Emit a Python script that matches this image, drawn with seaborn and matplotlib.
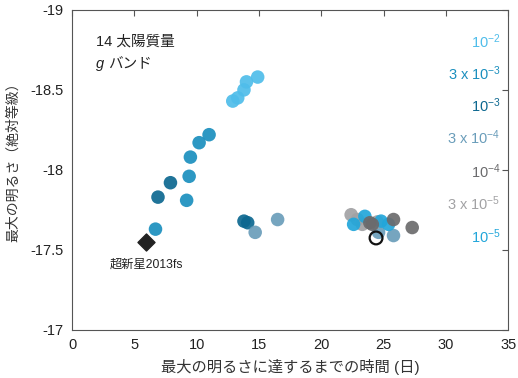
import matplotlib
matplotlib.use("Agg")
import matplotlib.pyplot as plt
import seaborn as sns
import pandas as pd

sns.set_style("white")
plt.rcParams["font.family"] = ["Liberation Sans", "Noto Sans CJK JP", "DejaVu Sans"]
plt.rcParams["mathtext.fontset"] = "custom"
plt.rcParams["mathtext.rm"] = "Liberation Sans"
plt.rcParams["mathtext.it"] = "Liberation Sans:italic"

# Mass-loss rates (solar masses per year) and their colours
rate_labels = [r"$10^{-2}$", r"3 x $10^{-3}$", r"$10^{-3}$", r"3 x $10^{-4}$",
               r"$10^{-4}$", r"3 x $10^{-5}$", r"$10^{-5}$"]
rate_keys = ["1e-2", "3e-3", "1e-3", "3e-4", "1e-4", "3e-5", "1e-5"]
rate_colors = ["#4fbdea", "#1b8fbe", "#0d6890", "#6a9dba", "#6b6b6d", "#a2a2a4", "#22a6da"]

# Rise time (days) and peak g-band absolute magnitude per model
rise_1e2 = [12.9, 13.3, 13.8, 14.0, 14.9]
mag_1e2 = [-18.43, -18.45, -18.50, -18.55, -18.58]
rise_3e3 = [11.0, 10.2, 9.5, 9.4, 9.2, 6.7]
mag_3e3 = [-18.22, -18.17, -18.08, -17.96, -17.81, -17.63]
rise_1e3 = [7.9, 6.9, 13.8, 14.1]
mag_1e3 = [-17.92, -17.83, -17.68, -17.67]
rise_3e4 = [14.7, 16.5, 24.6, 25.8]
mag_3e4 = [-17.61, -17.69, -17.61, -17.59]
rise_1e4 = [24.1, 25.8, 27.3, 23.9]
mag_1e4 = [-17.66, -17.69, -17.64, -17.67]
rise_3e5 = [22.4, 22.9, 23.3, 24.5]
mag_3e5 = [-17.72, -17.69, -17.66, -17.675]
rise_1e5 = [23.5, 22.6, 25.4, 24.8]
mag_1e5 = [-17.71, -17.66, -17.66, -17.68]

# Observed supernova and the reference model marked with an open circle
sn_rise, sn_mag = 5.9, -17.55
sn_label = "超新星2013fs"
best_rise, best_mag = 24.4, -17.575

frames = []
for key, xs, ys in [("1e-2", rise_1e2, mag_1e2), ("3e-3", rise_3e3, mag_3e3),
                    ("1e-3", rise_1e3, mag_1e3), ("3e-4", rise_3e4, mag_3e4),
                    ("3e-5", rise_3e5, mag_3e5), ("1e-5", rise_1e5, mag_1e5),
                    ("1e-4", rise_1e4, mag_1e4)]:
    frames.append(pd.DataFrame({"rise": xs, "mag": ys, "rate": key}))
df = pd.concat(frames, ignore_index=True)

fig = plt.figure(figsize=(5.18, 3.78), dpi=100)
ax = fig.add_axes([0.139, 0.127, 0.842, 0.847])

sns.scatterplot(data=df, x="rise", y="mag", hue="rate", hue_order=rate_keys,
                palette=dict(zip(rate_keys, rate_colors)), s=95, alpha=0.92,
                edgecolor="none", legend=False, ax=ax)
ax.scatter([sn_rise], [sn_mag], marker="D", s=75, color="#222222", zorder=5)
ax.scatter([best_rise], [best_mag], marker="o", s=85, facecolor="none",
           edgecolor="#111111", linewidths=1.6, zorder=6)
ax.text(sn_rise + 0.1, sn_mag + 0.14, sn_label, ha="center", va="center",
        fontsize=8.8, color="#222222")

ax.set_xlim(0, 35)
ax.set_ylim(-17, -19)
ax.set_xticks(range(0, 36, 5))
ax.set_yticks([-19, -18.5, -18, -17.5, -17])
ax.set_yticklabels(["-19", "-18.5", "-18", "-17.5", "-17"])
ax.tick_params(direction="in", top=True, right=True, length=4, width=0.8,
               labelsize=10.5, colors="#555555", labelcolor="#222222", pad=6)
for sp in ax.spines.values():
    sp.set_color("#555555")
    sp.set_linewidth(0.8)

ax.set_xlabel("最大の明るさに達するまでの時間 (日)", fontsize=11, color="#333333", labelpad=5)
ax.set_ylabel("最大の明るさ（絶対等級）", fontsize=10, color="#333333")
ax.yaxis.set_label_coords(-0.118, 0.535)

ax.text(0.055, 0.9, "14 太陽質量", transform=ax.transAxes, fontsize=10.5, color="#222222",
        va="center")
ax.text(0.055, 0.83, "g", transform=ax.transAxes, fontsize=10.5, color="#222222",
        va="center", fontstyle="italic")
ax.text(0.083, 0.83, "バンド", transform=ax.transAxes, fontsize=10.5, color="#222222",
        va="center")

label_y = [-18.8, -18.6, -18.4, -18.2, -17.99, -17.79, -17.58]
for lab, col, yv in zip(rate_labels, rate_colors, label_y):
    ax.text(0.983, yv, lab, transform=ax.get_yaxis_transform(), ha="right", va="center",
            fontsize=10.5, color=col)

fig.savefig("out.png", dpi=100)
